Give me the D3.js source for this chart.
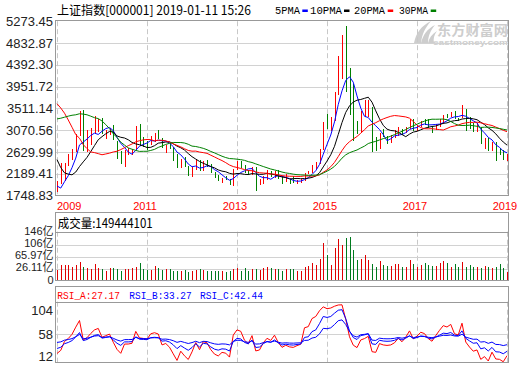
<!DOCTYPE html>
<html><head><meta charset="utf-8">
<script src="https://cdn.jsdelivr.net/npm/d3@7"></script>
<style>html,body{margin:0;padding:0;background:#fff}svg{display:block}</style>
</head><body>
<script>
// ---------- data ----------
const years = [2009,2010,2011,2012,2013,2014,2015,2016,2017,2018];
const months = [];
years.forEach(y => { for (let m = 1; m <= 12; m++) months.push(y + "-" + String(m).padStart(2, "0")); });
months.push("2019-01");

const yearLabels = ["2009","2011","2013","2015","2017","2019"];
const priceTicks = [1748.83,2189.41,2629.99,3070.56,3511.14,3951.72,4392.30,4832.87,5273.45];
const volTicks = [26.11,65.97,105.83,145.69];
const volTickLabels = ["26.11亿","65.97亿","106亿","146亿"];
const rsiTicks = [104,58,12];

const open = [
1849.02,1997.57,2079.21,2370.60,2481.70,2634.00,2963.00,3422.00,2665.00,2802.00,2999.00,3203.00,
3289.75,2982.00,3065.00,3114.00,2838.00,2578.00,2386.00,2632.00,2640.00,2667.00,2986.00,2825.00,
2825.33,2798.00,2899.00,2932.00,2898.00,2743.00,2759.00,2703.00,2567.00,2363.00,2476.00,2337.00,
2212.00,2285.00,2434.00,2252.00,2399.00,2365.00,2221.00,2104.00,2051.00,2084.00,2068.00,1979.00,
2289.00,2392.00,2361.00,2230.00,2178.00,2300.00,1978.00,1999.00,2092.00,2178.00,2140.00,2224.00,
2112.00,2033.00,2057.00,2039.00,2024.00,2037.00,2050.00,2209.00,2216.00,2363.00,2423.00,2707.00,
3258.63,3148.00,3328.00,3810.00,4483.00,4633.00,4214.00,3629.00,3157.00,3156.00,3337.00,3456.00,
3536.59,2730.00,2688.00,3002.00,2935.00,2917.00,2924.00,2970.00,3082.00,3019.00,3103.00,3244.00,
3105.31,3160.00,3243.00,3223.00,3148.00,3108.00,3196.00,3273.00,3365.00,3366.00,3391.00,3315.00,
3314.03,3478.00,3262.00,3163.00,3085.00,3084.00,2841.00,2882.00,2716.00,2819.00,2599.00,2596.00,
2497.88];
const high = [
2045.70,2402.60,2403.41,2579.62,2688.63,2997.28,3454.02,3478.01,3068.37,3123.46,3361.39,3296.40,
3306.75,3076.26,3123.72,3181.66,2852.35,2648.83,2676.88,2707.42,2682.42,3159.51,3186.72,2939.49,
2853.01,2942.11,3016.75,3067.46,2901.78,2774.30,2826.96,2737.85,2578.55,2485.14,2536.78,2347.62,
2319.12,2478.38,2476.33,2453.73,2461.63,2386.90,2229.56,2173.32,2111.13,2133.44,2082.29,2276.66,
2451.91,2444.80,2363.49,2269.39,2334.25,2324.39,2092.02,2149.79,2270.27,2242.64,2245.39,2260.05,
2138.15,2177.98,2081.22,2146.70,2061.09,2087.32,2204.23,2248.78,2366.00,2424.16,2683.04,3239.36,
3406.79,3341.76,3835.57,4572.39,4986.50,5178.19,4317.05,4006.34,3256.74,3457.99,3678.27,3684.57,
3538.69,2933.96,3018.80,3097.18,2952.25,2968.05,3070.31,3140.48,3095.13,3131.02,3301.21,3288.50,
3173.03,3260.84,3295.55,3295.19,3158.40,3194.21,3301.23,3379.19,3391.93,3430.23,3450.49,3320.59,
3587.03,3495.09,3333.88,3220.75,3219.74,3124.68,2915.30,2915.00,2827.34,2826.58,2703.51,2666.20,
2597.84];
const low = [
1814.75,1990.00,2037.02,2355.46,2461.85,2630.19,2955.00,2639.76,2632.00,2769.88,2994.79,3039.40,
2986.61,2890.03,2979.98,2861.92,2481.97,2382.65,2319.74,2571.89,2573.19,2661.97,2742.15,2721.48,
2661.45,2778.04,2823.89,2888.83,2701.29,2610.99,2688.46,2437.54,2307.15,2307.15,2317.09,2134.02,
2132.63,2264.12,2242.34,2242.37,2334.72,2203.69,2100.95,2040.95,1999.48,2058.41,1959.77,1949.46,
2263.56,2300.82,2205.76,2161.14,2171.86,1849.65,1951.50,1979.54,2070.26,2118.48,2096.42,2085.51,
1984.80,2024.37,1974.38,2009.46,1991.06,2010.59,2046.97,2187.93,2212.44,2276.54,2388.76,2664.83,
3095.07,3049.11,3261.72,3787.62,4099.05,3847.88,3373.54,2850.71,2983.92,3039.74,3327.22,3327.81,
2638.30,2638.96,2682.09,2925.73,2780.77,2807.54,2920.00,2954.61,2969.00,3003.87,3096.00,3056.88,
3044.73,3134.03,3181.43,3111.66,3016.53,3081.45,3132.51,3202.41,3323.93,3336.78,3286.43,3254.17,
3314.03,3062.74,3091.00,3041.00,3041.00,2782.38,2691.02,2653.11,2644.30,2449.20,2565.34,2462.84,
2440.91];
const close = [
1990.66,2082.85,2373.21,2477.57,2632.93,2959.36,3412.06,2667.75,2779.43,2995.85,3195.30,3277.14,
2989.29,3051.94,3109.10,2870.61,2592.15,2398.37,2637.50,2638.80,2655.66,2978.84,2820.18,2808.08,
2790.69,2905.05,2928.11,2911.51,2743.47,2762.08,2701.73,2567.34,2359.22,2468.25,2333.41,2199.42,
2292.61,2428.49,2262.79,2396.32,2372.23,2225.43,2103.63,2047.52,2086.17,2068.88,1980.12,2269.13,
2385.42,2365.59,2236.62,2177.91,2300.59,1979.21,1993.80,2098.38,2174.67,2141.61,2220.50,2115.98,
2033.08,2056.30,2033.31,2026.36,2039.21,2048.33,2201.56,2217.20,2363.87,2420.18,2682.83,3234.68,
3210.36,3310.30,3747.90,4441.66,4611.74,4277.22,3663.73,3205.99,3052.78,3382.56,3445.40,3539.18,
2737.60,2687.98,3003.92,2938.32,2916.62,2929.61,2979.34,3085.49,3004.70,3100.49,3250.03,3103.64,
3159.17,3241.73,3222.51,3154.66,3117.18,3192.43,3273.03,3360.81,3348.94,3393.34,3317.19,3307.17,
3480.83,3259.41,3168.90,3082.23,3095.47,2847.42,2876.40,2725.25,2821.35,2602.78,2588.19,2493.90,
2553.83];
// monthly closes 2004-01 .. 2008-12 (history used by the moving averages and RSI)
const priorClose = [
1590.73,1675.07,1741.62,1595.59,1555.91,1399.16,1386.20,1342.06,1396.70,1320.54,1340.77,1266.50,
1191.82,1306.00,1181.24,1159.15,1060.74,1080.94,1083.03,1162.80,1155.61,1092.82,1099.26,1161.06,
1258.05,1299.03,1298.30,1440.22,1641.30,1672.21,1612.73,1658.64,1752.42,1837.99,2099.29,2675.47,
2786.34,2881.07,3183.98,3841.27,4109.65,3820.70,4471.03,5218.83,5552.30,5954.77,4871.78,5261.56,
4383.39,4348.54,3472.71,3693.11,3433.35,2736.10,2775.72,2397.37,2293.78,1728.79,1871.16,1820.81];
// volume, 亿
const volume = [
21.8,38.4,39.4,39.4,32.8,38.4,49.4,33.8,29.4,25.1,42.7,30.4,
27.1,19.5,28.4,28.4,25.1,19.5,26.1,27.1,28.4,33.8,46.0,27.1,
21.8,21.8,35.1,28.4,21.8,25.1,25.1,19.5,18.5,18.5,21.8,17.1,
19.5,21.8,26.1,22.8,20.5,20.5,18.5,19.5,18.5,16.2,19.5,27.1,
28.4,19.5,28.4,19.5,25.1,25.1,22.8,28.4,32.8,28.4,25.1,26.1,
19.5,26.1,25.1,26.1,19.5,19.5,32.8,36.1,46.0,39.4,58.3,113.5,
72.6,39.4,94.9,124.8,105.8,128.1,132.4,89.2,56.0,60.3,72.6,56.0,
41.7,32.8,52.7,39.4,36.1,36.1,42.7,41.7,32.8,32.8,56.0,42.7,
32.8,39.4,47.0,39.4,36.1,36.1,46.0,52.7,46.0,32.8,42.7,32.8,
49.4,32.8,39.4,32.8,32.8,28.4,36.1,32.8,29.4,32.8,42.7,28.4,
17.1];
const maPeriods = [5,10,20,30];
const maColors = ["#0000ff","#000000","#ff0000","#008000"];
const maNames = ["5PMA","10PMA","20PMA","30PMA"];
const rsiPeriods = [6,12,24];
const rsiColors = ["#ff0000","#0000ff","#0000ff"];
const rsiLabels = ["RSI_A:27.17","RSI_B:33.27","RSI_C:42.44"];

// ---------- indicators built from the closes ----------
const allClose = priorClose.concat(close);
const off = priorClose.length;
function ma(n){ return close.map((c,i)=>{ const j=i+off; return d3.mean(allClose.slice(j-n+1,j+1)); }); }
function rsi(n){ let up=0,dn=0; const out=[]; for(let i=1;i<allClose.length;i++){ const d=allClose[i]-allClose[i-1]; const u=Math.max(d,0),a=Math.abs(d); if(i===1){up=u;dn=a;} else {up=(u+(n-1)*up)/n; dn=(a+(n-1)*dn)/n;} out.push(dn===0?50:up/dn*100);} return out.slice(off-1); }
const maSeries = maPeriods.map(ma);
const rsiSeries = rsiPeriods.map(rsi);

// ---------- layout ----------
const W=520,H=365;
const L=56, R=508;
const mainTop=21.2, mainBot=195.5;
const volBoxTop=213, volTop=231.7, volBot=280.5;
const rsiBoxTop=287.3, rsiTop=301.7, rsiBot=363.3;

const svg=d3.select("body").append("svg").attr("width",W).attr("height",H)
  .style("font-family","'Liberation Sans',Arial,sans-serif");

const x=d3.scalePoint().domain(months).range([57,507]);
const y=d3.scaleLinear().domain([priceTicks[0],priceTicks[priceTicks.length-1]]).range([mainBot,mainTop]);
const yv=d3.scaleLinear().domain([-13.75,145.69]).range([281,233]);
const yr=d3.scaleLinear().domain([12,104]).range([366.6,300.4]);

const cr = v => Math.round(v)+0.5;
const gridH = "#d2d2d2", frame="#999999", dash="#c8c8c8";

// watermark
const wm=svg.append("g").attr("fill","#cdcdcd");
wm.append("path").attr("d","M414,43 C416,33 421,26 431,21 C425,28 422,34 421,43 Z");
wm.append("path").attr("d","M421,43 C423,35 427,29 435,25 C430,31 428,37 428,43 Z");
wm.append("path").attr("d","M428,43 C429,38 432,34 437,31 C434,35 433,39 434,43 Z");
wm.append("text").attr("x",437).attr("y",34.5).attr("font-size",13.5).attr("font-weight","bold")
  .attr("font-family","'Noto Sans CJK SC',sans-serif").attr("textLength",71).attr("lengthAdjust","spacingAndGlyphs").text("东方财富网");
wm.append("text").attr("x",433).attr("y",45).attr("font-size",7).attr("font-weight","bold")
  .attr("textLength",75).attr("lengthAdjust","spacingAndGlyphs").text("eastmoney.com");

// ---------- main panel ----------
const g=svg.append("g");
priceTicks.slice(1,-1).forEach(t=>{
  g.append("line").attr("x1",L).attr("x2",R).attr("y1",cr(y(t))).attr("y2",cr(y(t))).attr("stroke",gridH);
});
const yearIdx = yearLabels.map(yl=>yl+"-01");
function vdash(top,bot){
  yearIdx.forEach(m=>{
    svg.append("line").attr("x1",cr(x(m))).attr("x2",cr(x(m))).attr("y1",top).attr("y2",bot)
      .attr("stroke",dash).attr("stroke-dasharray","5,3");
  });
}
vdash(mainTop,mainBot); vdash(volTop,volBot); vdash(rsiTop,rsiBot);

svg.append("defs").html(
 `<clipPath id="cm"><rect x="${L}" y="${mainTop}" width="${R-L}" height="${mainBot-mainTop}"/></clipPath>
  <clipPath id="cr"><rect x="${L}" y="${rsiTop}" width="${R-L}" height="${rsiBot-rsiTop}"/></clipPath>`);

// candles
const up = i => close[i]>=open[i];
const cg=svg.append("g").attr("shape-rendering","crispEdges");
months.forEach((m,i)=>{
  const col = up(i)?"#ff0000":"#008000";
  const xx = Math.round(x(m));
  cg.append("line").attr("x1",xx+0.5).attr("x2",xx+0.5).attr("y1",y(high[i])).attr("y2",y(low[i])).attr("stroke",col);
  const yt=y(Math.max(open[i],close[i])), yb=y(Math.min(open[i],close[i]));
  cg.append("rect").attr("x",xx).attr("width",1).attr("y",yt).attr("height",Math.max(1,yb-yt)).attr("fill",col);
});
// moving averages
const lineGen = yS => d3.line().x((d,i)=>x(months[i])).y(d=>yS(d));
maSeries.forEach((s,k)=>{
  svg.append("path").attr("d",lineGen(y)(s)).attr("fill","none").attr("stroke",maColors[k])
    .attr("stroke-width",1).attr("clip-path","url(#cm)");
});
svg.append("rect").attr("x",L-0.5).attr("y",mainTop-0.5).attr("width",R-L+0.5).attr("height",mainBot-mainTop)
  .attr("fill","none").attr("stroke",frame).attr("shape-rendering","crispEdges");

// price axis labels
priceTicks.forEach(t=>{
  svg.append("text").attr("x",53).attr("y",y(t)).attr("dy","0.36em").attr("text-anchor","end")
    .attr("font-size",13).attr("fill","#222").text(t.toFixed(2));
});
// year labels
yearLabels.forEach((yl,k)=>{
  const t=svg.append("text").attr("y",210).attr("font-size",11).attr("fill","#ff0000").text(yl);
  if(k===0) t.attr("x",x(yl+"-01")); else t.attr("x",x(yl+"-01")-2).attr("text-anchor","middle");
});

// title + legend
svg.append("text").attr("x",57).attr("y",14.5).attr("font-size",12.5)
  .attr("font-family","'Noto Sans CJK SC','Liberation Sans',sans-serif")
  .attr("textLength",194).attr("lengthAdjust","spacingAndGlyphs").text("上证指数[000001] 2019-01-11 15:26");
const legX=[275,310,354,399], legW=[25,32,31,29], sqX=[302.3,344,387.7,430.7];
maNames.forEach((n,k)=>{
  svg.append("text").attr("x",legX[k]).attr("y",14).attr("font-size",11)
    .attr("font-family","'Liberation Mono',monospace").attr("textLength",legW[k]).attr("lengthAdjust","spacingAndGlyphs").text(n);
  svg.append("rect").attr("x",sqX[k]).attr("y",9.5).attr("width",5.5).attr("height",2.5).attr("fill",maColors[k]);
});

// ---------- volume panel ----------
volTicks.slice(0,3).forEach(t=>{
  svg.append("line").attr("x1",L).attr("x2",R).attr("y1",cr(yv(t))).attr("y2",cr(yv(t))).attr("stroke",gridH);
});
const vg=svg.append("g").attr("shape-rendering","crispEdges");
months.forEach((m,i)=>{
  const xx=Math.round(x(m));
  vg.append("rect").attr("x",xx).attr("width",1).attr("y",yv(volume[i])).attr("height",volBot-yv(volume[i]))
    .attr("fill",up(i)?"#e00000":"#007a1e");
});
svg.append("rect").attr("x",L-0.5).attr("y",volBoxTop-0.5).attr("width",R-L+0.5).attr("height",volBot-volBoxTop)
  .attr("fill","none").attr("stroke",frame).attr("shape-rendering","crispEdges");
svg.append("line").attr("x1",L).attr("x2",R).attr("y1",cr(volTop)).attr("y2",cr(volTop)).attr("stroke",frame).attr("shape-rendering","crispEdges");
svg.append("text").attr("x",57.7).attr("y",227.5).attr("font-size",12.5)
  .attr("font-family","'Noto Sans CJK SC','Liberation Sans',sans-serif")
  .attr("textLength",95).attr("lengthAdjust","spacingAndGlyphs").text("成交量:149444101");
volTicks.forEach((t,k)=>{
  svg.append("text").attr("x",53.5).attr("y",yv(t)-1.5).attr("dy","0.36em").attr("text-anchor","end")
    .attr("font-size",11).attr("fill","#222").attr("font-family","'Liberation Sans','Noto Sans CJK SC',sans-serif").text(volTickLabels[k]);
});
svg.append("text").attr("x",53.5).attr("y",280.3).attr("dy","0.36em").attr("text-anchor","end")
  .attr("font-size",11).attr("fill","#222").text("0");

// ---------- RSI panel ----------
svg.append("line").attr("x1",L).attr("x2",R).attr("y1",cr(yr(58))).attr("y2",cr(yr(58))).attr("stroke",gridH);
rsiSeries.forEach((s,k)=>{
  svg.append("path").attr("d",lineGen(yr)(s)).attr("fill","none").attr("stroke",rsiColors[k])
    .attr("stroke-width",1).attr("clip-path","url(#cr)");
});
svg.append("rect").attr("x",L-0.5).attr("y",rsiBoxTop-0.5).attr("width",R-L+0.5).attr("height",rsiBot-rsiBoxTop)
  .attr("fill","none").attr("stroke",frame).attr("shape-rendering","crispEdges");
svg.append("line").attr("x1",L).attr("x2",R).attr("y1",cr(rsiTop)).attr("y2",cr(rsiTop)).attr("stroke",frame).attr("shape-rendering","crispEdges");
const rlx=[57.3,129.3,200], rlw=[62.7,62.4,63];
rsiLabels.forEach((t,k)=>{
  svg.append("text").attr("x",rlx[k]).attr("y",298.5).attr("font-size",10.5).attr("fill",rsiColors[k])
    .attr("font-family","'Liberation Mono',monospace").attr("textLength",rlw[k]).attr("lengthAdjust","spacingAndGlyphs").text(t);
});
const rsiLabelY=[310,334,356];
rsiTicks.forEach((t,k)=>{
  svg.append("text").attr("x",53).attr("y",rsiLabelY[k]).attr("dy","0.36em").attr("text-anchor","end")
    .attr("font-size",13).attr("fill","#222").text(t);
});
</script>
</body></html>
